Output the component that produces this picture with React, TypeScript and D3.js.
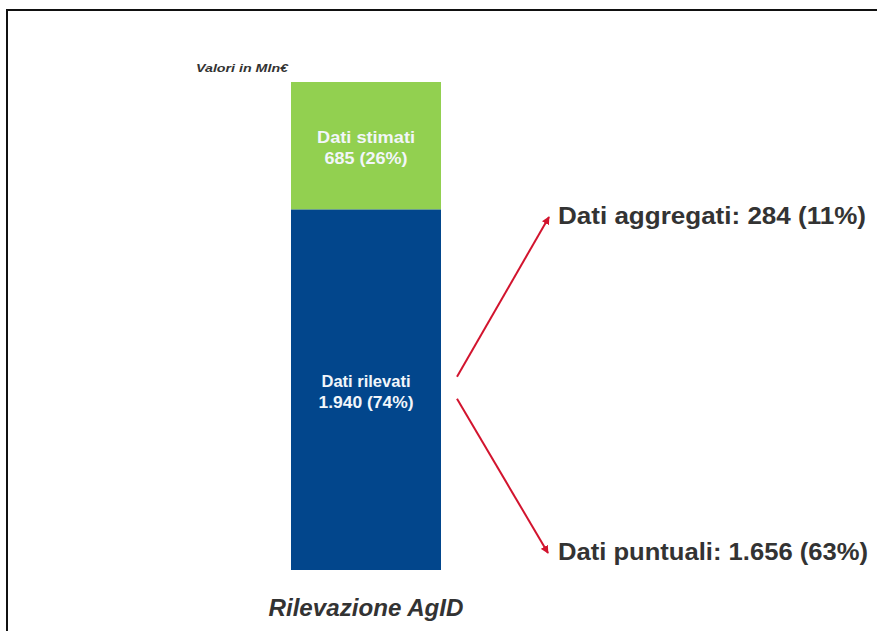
import React from "react";
import * as d3 from "d3";

const categories = ["Rilevazione AgID"];
const segmentNames = ["Dati rilevati", "Dati stimati"];
const segmentValues = [1940, 685];
const segmentPct = [74, 26];
const breakdownNames = ["Dati aggregati", "Dati puntuali"];
const breakdownValues = [284, 1656];
const breakdownPct = [11, 63];
const unitNote = "Valori in Mln€";

const W = 877;
const H = 631;
const COLORS = ["#02468c", "#92d050"];
const RED = "#d2142e";
const TEXT = "#333333";
const FONT = "Arial, 'Liberation Sans', Helvetica, sans-serif";

const it = d3.formatLocale({ decimal: ",", thousands: ".", grouping: [3], currency: ["", "€"] });
const fmt = it.format(",d");

// approximate rendered widths of the (slightly stretched) labels in the reference
const segNameWidths = [89, 98];
const segValueWidths = [95, 83];
const breakdownWidths = [308, 310];

export default function App() {
  const total = d3.sum(segmentValues);
  const y = d3.scaleLinear().domain([0, total]).range([570, 82]);
  const x = d3.scaleBand().domain(categories).range([291, 441]).padding(0);

  const stacked = segmentValues.map((v, i) => {
    const y0 = d3.sum(segmentValues.slice(0, i));
    return { name: segmentNames[i], value: v, pct: segmentPct[i], y0, y1: y0 + v, color: COLORS[i] };
  });

  const bx = x(categories[0]) as number;
  const bw = x.bandwidth();
  const cx = bx + bw / 2;

  const blue = stacked[0];
  const blueMid = (y(blue.y0) + y(blue.y1)) / 2;
  const arrowStartX = bx + bw + 16;
  const labelX = 558;
  const labelY = [224, 560];
  const arrowEnds = [
    { x: 549, y: 217 },
    { x: 548, y: 553 },
  ];
  const arrowStarts = [
    { x: arrowStartX, y: blueMid - 13 },
    { x: arrowStartX, y: blueMid + 9 },
  ];

  return (
    <svg
      width={W}
      height={H}
      style={{ position: "absolute", left: 0, top: 0, background: "#fff", fontFamily: FONT }}
    >
      <defs>
        <marker id="ah" viewBox="0 0 10 10" refX="9" refY="5" markerWidth="4" markerHeight="4" orient="auto">
          <path d="M0,0 L10,5 L0,10 z" fill={RED} />
        </marker>
      </defs>
      <rect x={0} y={0} width={W} height={H} fill="#fff" />
      <line x1={7} y1={9} x2={7} y2={H} stroke="#111" strokeWidth={2} />
      <line x1={6} y1={10} x2={W} y2={10} stroke="#111" strokeWidth={2} />

      <text x={196} y={72} fontSize={11} fontStyle="italic" fontWeight="bold" fill={TEXT}
        textLength={92} lengthAdjust="spacingAndGlyphs">
        {unitNote}
      </text>

      {stacked.map((s, i) => {
        const top = y(s.y1);
        const bot = y(s.y0);
        const mid = (top + bot) / 2;
        return (
          <g key={s.name}>
            <rect x={bx} y={top} width={bw} height={bot - top} fill={s.color} />
            <text x={cx - segNameWidths[i] / 2} y={mid - 3} fontSize={16} fontWeight="bold" fill="#f2f6fa"
              textLength={segNameWidths[i]} lengthAdjust="spacingAndGlyphs">
              {s.name}
            </text>
            <text x={cx - segValueWidths[i] / 2} y={mid + 18} fontSize={16} fontWeight="bold" fill="#f2f6fa"
              textLength={segValueWidths[i]} lengthAdjust="spacingAndGlyphs">
              {`${fmt(s.value)} (${s.pct}%)`}
            </text>
          </g>
        );
      })}

      <text x={cx - 97.5} y={616} fontSize={23} fontStyle="italic" fontWeight="bold" fill={TEXT}
        textLength={195} lengthAdjust="spacingAndGlyphs">
        {categories[0]}
      </text>

      {breakdownNames.map((n, i) => (
        <g key={n}>
          <line
            x1={arrowStarts[i].x}
            y1={arrowStarts[i].y}
            x2={arrowEnds[i].x}
            y2={arrowEnds[i].y}
            stroke={RED}
            strokeWidth={2}
            markerEnd="url(#ah)"
          />
          <text x={labelX} y={labelY[i]} fontSize={24} fontWeight="bold" fill={TEXT}
            textLength={breakdownWidths[i]} lengthAdjust="spacingAndGlyphs">
            {`${n}: ${fmt(breakdownValues[i])} (${breakdownPct[i]}%)`}
          </text>
        </g>
      ))}
    </svg>
  );
}
